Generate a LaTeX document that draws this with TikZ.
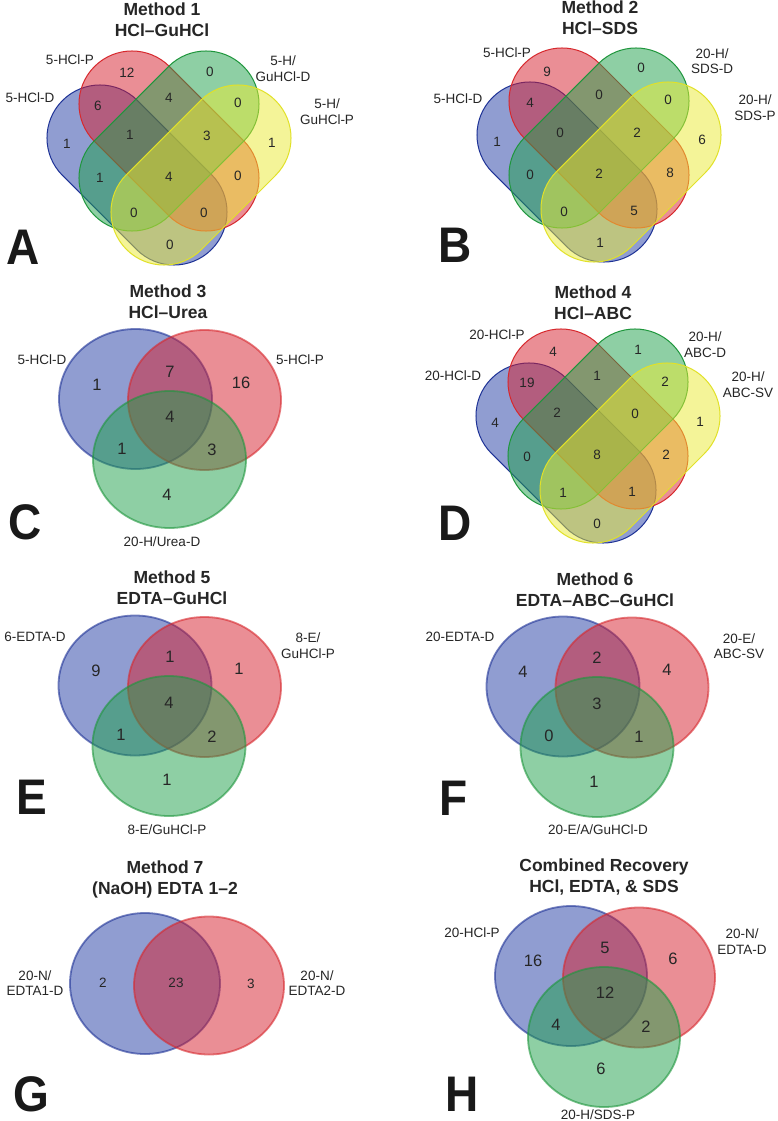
\documentclass[tikz,border=0pt]{standalone}
\usepackage{fontspec}
\setmainfont{Liberation Sans}
\definecolor{fB}{RGB}{35,60,165}
\definecolor{fR}{RGB}{215,30,45}
\definecolor{fG}{RGB}{30,160,75}
\definecolor{fY}{RGB}{235,235,50}
\definecolor{lB}{RGB}{30,50,150}
\definecolor{lR}{RGB}{215,40,45}
\definecolor{lG}{RGB}{30,150,60}
\definecolor{lY}{RGB}{225,225,40}
\tikzset{
  sB/.style={fill=fB, fill opacity=0.5, draw=lB, line width=1pt},
  sR/.style={fill=fR, fill opacity=0.5, draw=lR, line width=1pt},
  sG/.style={fill=fG, fill opacity=0.5, draw=lG, line width=1pt},
  sY/.style={fill=fY, fill opacity=0.5, draw=lY, line width=1pt},
  cB/.style={fill=fB, fill opacity=0.5, draw=lB, draw opacity=0.6, line width=1.8pt},
  cR/.style={fill=fR, fill opacity=0.5, draw=lR, draw opacity=0.6, line width=1.8pt},
  cG/.style={fill=fG, fill opacity=0.5, draw=lG, draw opacity=0.6, line width=1.8pt},
  lab/.style={font=\fontsize{13.5}{15.5}\selectfont, align=center, inner sep=0pt, text=black!85},
  num/.style={font=\fontsize{13.5}{15.5}\selectfont, inner sep=0pt, text=black!85},
  bnum/.style={font=\fontsize{16.5}{18}\selectfont, inner sep=0pt, text=black!85},
  ttl/.style={font=\bfseries\fontsize{17.5}{21}\selectfont, align=center, inner sep=0pt, text=black!85},
  big/.style={font=\bfseries\fontsize{50}{50}\selectfont, inner sep=0pt, text=black!90, xscale=0.92}
}
\newcommand\stadium[4]{%
  \path[#1, rotate around={#4:(#2,#3)}] (#2-52.35,#3-53) -- (#2+52.35,#3-53)
    arc[start angle=-90, end angle=90, radius=53] -- (#2-52.35,#3+53)
    arc[start angle=90, end angle=270, radius=53] -- cycle;}
\newcommand\fourset{%
  \stadium{sB}{137}{175}{-45}
  \stadium{sR}{169}{141}{-45}
  \stadium{sG}{169}{141}{45}
  \stadium{sY}{201}{175}{45}}
\begin{document}
\begin{tikzpicture}[x=1pt, y=-1pt]
\useasboundingbox (0,0) rectangle (777,1121);
\fill[white] (0,0) rectangle (777,1121);
% ---------- Panel A ----------
\fourset
\node[ttl] (tA) at (162,19.5) {Method 1\\HCl\textendash GuHCl};
\node[lab] (a1) at (70,60) {5-HCl-P};
\node[lab] (a2) at (30,98) {5-HCl-D};
\node[lab] (a3) at (283,68.5) {5-H/\\GuHCl-D};
\node[lab] (a4) at (327,111.5) {5-H/\\GuHCl-P};
\node[num] (an1) at (127,73) {12};
\node[num] (an2) at (98,106) {6};
\node[num] (an3) at (169,98) {4};
\node[num] (an4) at (210,72) {0};
\node[num] (an5) at (238,103) {0};
\node[num] (an6) at (67,144) {1};
\node[num] (an7) at (130,135) {1};
\node[num] (an8) at (207,136) {3};
\node[num] (an9) at (272,143) {1};
\node[num] (an10) at (100,178) {1};
\node[num] (an11) at (169,177) {4};
\node[num] (an12) at (238,176) {0};
\node[num] (an13) at (134,213) {0};
\node[num] (an14) at (204,213) {0};
\node[num] (an15) at (170,245) {0};
\node[big] (LA) at (23,247) {A};
% ---------- Panel B ----------
\begin{scope}[shift={(430,-3)}]\fourset\end{scope}
\node[ttl] (tB) at (600,18) {Method 2\\HCl\textendash SDS};
\node[lab] (b1) at (507,53) {5-HCl-P};
\node[lab] (b2) at (458,99) {5-HCl-D};
\node[lab] (b3) at (712,61) {20-H/\\SDS-D};
\node[lab] (b4) at (755,107.5) {20-H/\\SDS-P};
\node[num] (bn1) at (547,72) {9};
\node[num] (bn2) at (530,103) {4};
\node[num] (bn3) at (599,95) {0};
\node[num] (bn4) at (641,68) {0};
\node[num] (bn5) at (668,100) {0};
\node[num] (bn6) at (497,142) {1};
\node[num] (bn7) at (560,133) {0};
\node[num] (bn8) at (637,133) {2};
\node[num] (bn9) at (702,140) {6};
\node[num] (bn10) at (530,175) {0};
\node[num] (bn11) at (599,174) {2};
\node[num] (bn12) at (670,173) {8};
\node[num] (bn13) at (564,212) {0};
\node[num] (bn14) at (634,211) {5};
\node[num] (bn15) at (600,243) {1};
\node[big] (LB) at (455,245) {B};
% ---------- Panel C ----------
\path[cB] (135.5,399) ellipse [x radius=76.5, y radius=70];
\path[cR] (204.5,400) ellipse [x radius=76.5, y radius=70];
\path[cG] (169.5,459.5) ellipse [x radius=76.5, y radius=68.5];
\node[ttl] (tC) at (168,302) {Method 3\\HCl\textendash Urea};
\node[lab] (c1) at (42,360) {5-HCl-D};
\node[lab] (c2) at (300,360) {5-HCl-P};
\node[lab] (c3) at (162,542) {20-H/Urea-D};
\node[bnum] (cn1) at (97,385) {1};
\node[bnum] (cn2) at (170,372) {7};
\node[bnum] (cn3) at (241,383) {16};
\node[bnum] (cn4) at (170,417) {4};
\node[bnum] (cn5) at (122,449) {1};
\node[bnum] (cn6) at (212,450) {3};
\node[bnum] (cn7) at (167,495) {4};
\node[big] (LC) at (25,522) {C};
% ---------- Panel D ----------
\begin{scope}[shift={(429,278)}]\fourset\end{scope}
\node[ttl] (tD) at (593,302.5) {Method 4\\HCl\textendash ABC};
\node[lab] (d1) at (497,335) {20-HCl-P};
\node[lab] (d2) at (453,376) {20-HCl-D};
\node[lab] (d3) at (705,344.5) {20-H/\\ABC-D};
\node[lab] (d4) at (748,384.5) {20-H/\\ABC-SV};
\node[num] (dn1) at (553,352) {4};
\node[num] (dn2) at (527,383) {19};
\node[num] (dn3) at (597,376) {1};
\node[num] (dn4) at (638,350) {1};
\node[num] (dn5) at (665,382) {2};
\node[num] (dn6) at (495,423) {4};
\node[num] (dn7) at (557,413) {2};
\node[num] (dn8) at (635,414) {0};
\node[num] (dn9) at (700,422) {1};
\node[num] (dn10) at (527,457) {0};
\node[num] (dn11) at (597,455) {8};
\node[num] (dn12) at (666,455) {2};
\node[num] (dn13) at (563,493) {1};
\node[num] (dn14) at (632,492) {1};
\node[num] (dn15) at (597,524) {0};
\node[big] (LD) at (455,523) {D};
% ---------- Panel E ----------
\path[cB] (135,685.5) ellipse [x radius=76.5, y radius=70];
\path[cR] (204.5,687) ellipse [x radius=76.5, y radius=70];
\path[cG] (169,746) ellipse [x radius=76.5, y radius=70];
\node[ttl] (tE) at (172,587.5) {Method 5\\EDTA\textendash GuHCl};
\node[lab] (e1) at (35,637) {6-EDTA-D};
\node[lab] (e2) at (308,645.5) {8-E/\\GuHCl-P};
\node[lab] (e3) at (167,830) {8-E/GuHCl-P};
\node[bnum] (en1) at (96,671) {9};
\node[bnum] (en2) at (170,657) {1};
\node[bnum] (en3) at (239,669) {1};
\node[bnum] (en4) at (169,703) {4};
\node[bnum] (en5) at (121,735) {1};
\node[bnum] (en6) at (212,737) {2};
\node[bnum] (en7) at (167,780) {1};
\node[big] (LE) at (32,797) {E};
% ---------- Panel F ----------
\path[cB] (563,686.5) ellipse [x radius=76.5, y radius=70];
\path[cR] (632,687.5) ellipse [x radius=76.5, y radius=70];
\path[cG] (597,747) ellipse [x radius=76.5, y radius=70];
\node[ttl] (tF) at (595,589.5) {Method 6\\EDTA\textendash ABC\textendash GuHCl};
\node[lab] (f1) at (460,637) {20-EDTA-D};
\node[lab] (f2) at (739,646) {20-E/\\ABC-SV};
\node[lab] (f3) at (598,830) {20-E/A/GuHCl-D};
\node[bnum] (fn1) at (523,672) {4};
\node[bnum] (fn2) at (597,658) {2};
\node[bnum] (fn3) at (667,670) {4};
\node[bnum] (fn4) at (597,704) {3};
\node[bnum] (fn5) at (549,736) {0};
\node[bnum] (fn6) at (639,737) {1};
\node[bnum] (fn7) at (594,782) {1};
\node[big] (LF) at (454,798) {F};
% ---------- Panel G ----------
\path[cB] (145,983.5) ellipse [x radius=75, y radius=70.5];
\path[cR] (209,985.5) ellipse [x radius=75, y radius=69];
\node[ttl] (tG) at (165,879.5) {Method 7\\(NaOH) EDTA 1\textendash 2};
\node[lab] (g1) at (35,983) {20-N/\\EDTA1-D};
\node[lab] (g2) at (317,983) {20-N/\\EDTA2-D};
\node[num] (gn1) at (103,983) {2};
\node[num] (gn2) at (176,983) {23};
\node[num] (gn3) at (251,984) {3};
\node[big] (LG) at (31,1094) {G};
% ---------- Panel H ----------
\path[cB] (571,976) ellipse [x radius=76, y radius=70];
\path[cR] (639,977.5) ellipse [x radius=76, y radius=70];
\path[cG] (604,1037) ellipse [x radius=76, y radius=70];
\node[ttl] (tH) at (604,877.5) {Combined Recovery\\HCl, EDTA, \& SDS};
\node[lab] (h1) at (472,933) {20-HCl-P};
\node[lab] (h2) at (742,941.5) {20-N/\\EDTA-D};
\node[lab] (h3) at (598,1115) {20-H/SDS-P};
\node[bnum] (hn1) at (533,961) {16};
\node[bnum] (hn2) at (605,948) {5};
\node[bnum] (hn3) at (673,959) {6};
\node[bnum] (hn4) at (605,993) {12};
\node[bnum] (hn5) at (556,1025) {4};
\node[bnum] (hn6) at (646,1027) {2};
\node[bnum] (hn7) at (601,1069) {6};
\node[big] (LH) at (462,1094) {H};
\end{tikzpicture}
\end{document}
